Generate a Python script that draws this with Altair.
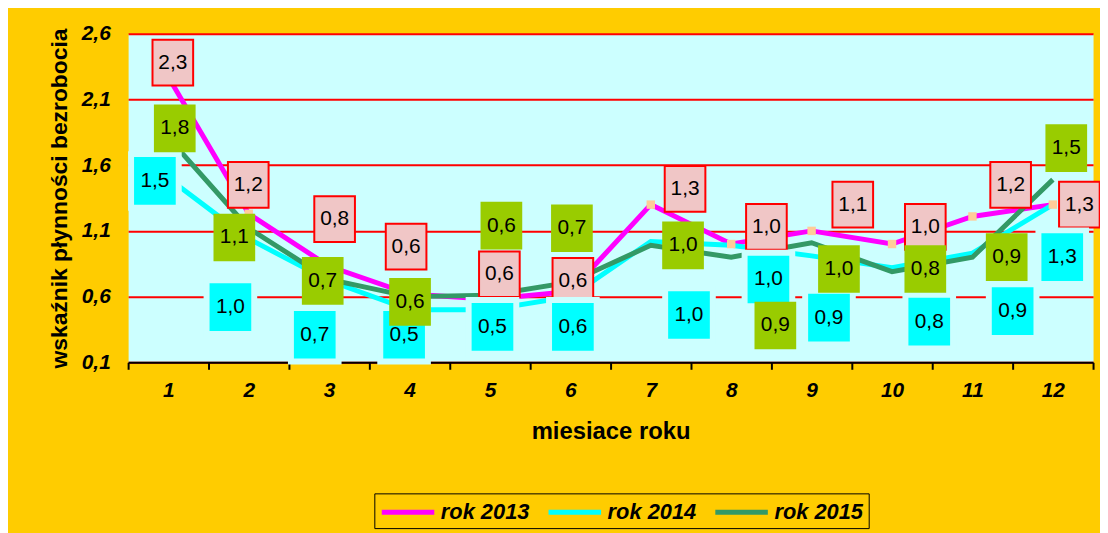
import altair as alt
import pandas as pd

months = list(range(1, 13))
series_names = ["rok 2013", "rok 2014", "rok 2015"]
series_colors = ["#FF00FF", "#00FFFF", "#339966"]

v2013 = [2.27, 1.23, 0.83, 0.62, 0.58, 0.64, 1.30, 1.00, 1.10, 1.00, 1.21, 1.30]
v2014 = [1.50, 1.04, 0.72, 0.50, 0.50, 0.60, 1.02, 0.99, 0.91, 0.82, 0.93, 1.30]
v2015 = [1.81, 1.12, 0.73, 0.60, 0.61, 0.71, 0.99, 0.90, 1.01, 0.79, 0.90, 1.49]

# where each data label box sits (month position, value units)
lx2013 = [1.056, 1.994, 3.068, 3.957, 5.117, 6.031, 7.426, 8.438, 9.512, 10.414, 11.475, 12.33]
ly2013 = [2.38, 1.45, 1.19, 0.98, 0.77, 0.72, 1.42, 1.13, 1.30, 1.13, 1.45, 1.30]
lx2014 = [0.833, 1.772, 2.821, 3.932, 5.031, 6.031, 7.475, 8.463, 9.216, 10.463, 11.500, 12.117]
ly2014 = [1.48, 0.52, 0.31, 0.31, 0.37, 0.37, 0.46, 0.73, 0.44, 0.41, 0.49, 0.90]
lx2015 = [1.080, 1.821, 2.920, 4.006, 5.142, 6.019, 7.401, 8.549, 9.340, 10.414, 11.426, 12.167]
ly2015 = [1.88, 1.05, 0.72, 0.56, 1.14, 1.12, 0.99, 0.38, 0.81, 0.81, 0.90, 1.73]

y_ticks = [0.1, 0.6, 1.1, 1.6, 2.1, 2.6]

rows = []
lab_rows = []
for name, vals, lxs, lys in [("rok 2013", v2013, lx2013, ly2013),
                             ("rok 2014", v2014, lx2014, ly2014),
                             ("rok 2015", v2015, lx2015, ly2015)]:
    for m, v, lx, ly in zip(months, vals, lxs, lys):
        rows.append({"series": name, "month": m, "value": v})
        lab_rows.append({"series": name, "lx": lx, "value": ly,
                         "text": f"{v:.1f}".replace(".", ",")})
df = pd.DataFrame(rows)
lab = pd.DataFrame(lab_rows)

FONT = "Liberation Sans"

x_enc = alt.X("month:O",
              scale=alt.Scale(type="band", paddingInner=0, paddingOuter=0),
              axis=alt.Axis(title="miesiace roku", labelAngle=0, tickBand="extent",
                            domainColor="black", domainWidth=2, tickColor="black",
                            tickWidth=2, tickSize=7, grid=False,
                            labelFont=FONT, labelFontSize=21, labelFontWeight="bold",
                            labelFontStyle="italic", labelColor="black", labelPadding=10,
                            titleFont=FONT, titleFontSize=24, titleFontWeight="bold",
                            titleColor="black", titlePadding=20))
y_enc = alt.Y("value:Q",
              scale=alt.Scale(domain=[0.1, 2.6], nice=False, zero=False),
              axis=alt.Axis(title="wskaźnik płynności bezrobocia", values=y_ticks,
                            labelExpr="replace(format(datum.value, '.1f'), '.', ',')",
                            grid=True, gridColor="#FF0000", gridWidth=2, gridOpacity=1,
                            domain=False, ticks=False,
                            labelFont=FONT, labelFontSize=21, labelFontWeight="bold",
                            labelFontStyle="italic", labelColor="black", labelPadding=18,
                            titleFont=FONT, titleFontSize=23, titleFontWeight="bold",
                            titleColor="black", titlePadding=10))

lines = alt.Chart(df).mark_line(strokeWidth=5).encode(
    x=x_enc, y=y_enc,
    color=alt.Color("series:N",
                    scale=alt.Scale(domain=series_names, range=series_colors),
                    legend=alt.Legend(orient="none", legendX=248, legendY=463,
                                      direction="horizontal", title=None,
                                      fillColor="#FFCC00", strokeColor="black",
                                      padding=5, symbolType="M-1,0H3.6",
                                      symbolStrokeWidth=5, symbolSize=529,
                                      labelFont=FONT, labelFontSize=22,
                                      labelFontWeight="bold", labelFontStyle="italic",
                                      labelColor="black", labelOffset=34,
                                      columnPadding=8)),
)

markers = alt.Chart(df).transform_filter(alt.datum.series == "rok 2013").mark_square(
    size=72, filled=True, color="#FFCC99", opacity=1
).encode(x=alt.X("month:O"), y=alt.Y("value:Q"))

base = alt.layer(lines, markers)

lx_enc = alt.X("lx:Q", scale=alt.Scale(domain=[0.5, 12.5], nice=False, zero=False), axis=None)
ly_enc = alt.Y("value:Q")

PINK = "M-0.89,-1H0.89V1H-0.89Z"
BOX = "M-0.875,-1H0.875V1H-0.875Z"
HALO = "M-0.9,-1H0.9V1H-0.9Z"

def boxes(name, **kw):
    return alt.Chart(lab).transform_filter(alt.datum.series == name).mark_point(
        filled=True, opacity=1, fillOpacity=1, **kw).encode(x=lx_enc, y=ly_enc)

def texts(name):
    return alt.Chart(lab).transform_filter(alt.datum.series == name).mark_text(
        font=FONT, fontSize=21, color="black", align="center", baseline="middle"
    ).encode(x=lx_enc, y=ly_enc, text="text:N")

label_layers = alt.layer(
    boxes("rok 2013", shape=PINK, size=2116, fill="#F0C6C6", stroke="#FF0000", strokeWidth=2),
    texts("rok 2013"),
    boxes("rok 2014", shape=HALO, size=3600, fill="#CCFFFF", strokeWidth=0),
    boxes("rok 2014", shape=BOX, size=2304, fill="#00FFFF", strokeWidth=0),
    texts("rok 2014"),
    boxes("rok 2015", shape=BOX, size=2304, fill="#99CC00", strokeWidth=0),
    texts("rok 2015"),
)

chart = alt.layer(base, label_layers).resolve_scale(x="independent").properties(
    width=972, height=331,
    padding={"left": 121, "top": 24, "right": 7, "bottom": 170},
    autosize=alt.AutoSizeParams(type="none"),
    background="#FFCC00",
).configure_view(fill="#CCFFFF", stroke="transparent")

chart.save("out.html", embed_options={"renderer": "svg", "actions": False})
